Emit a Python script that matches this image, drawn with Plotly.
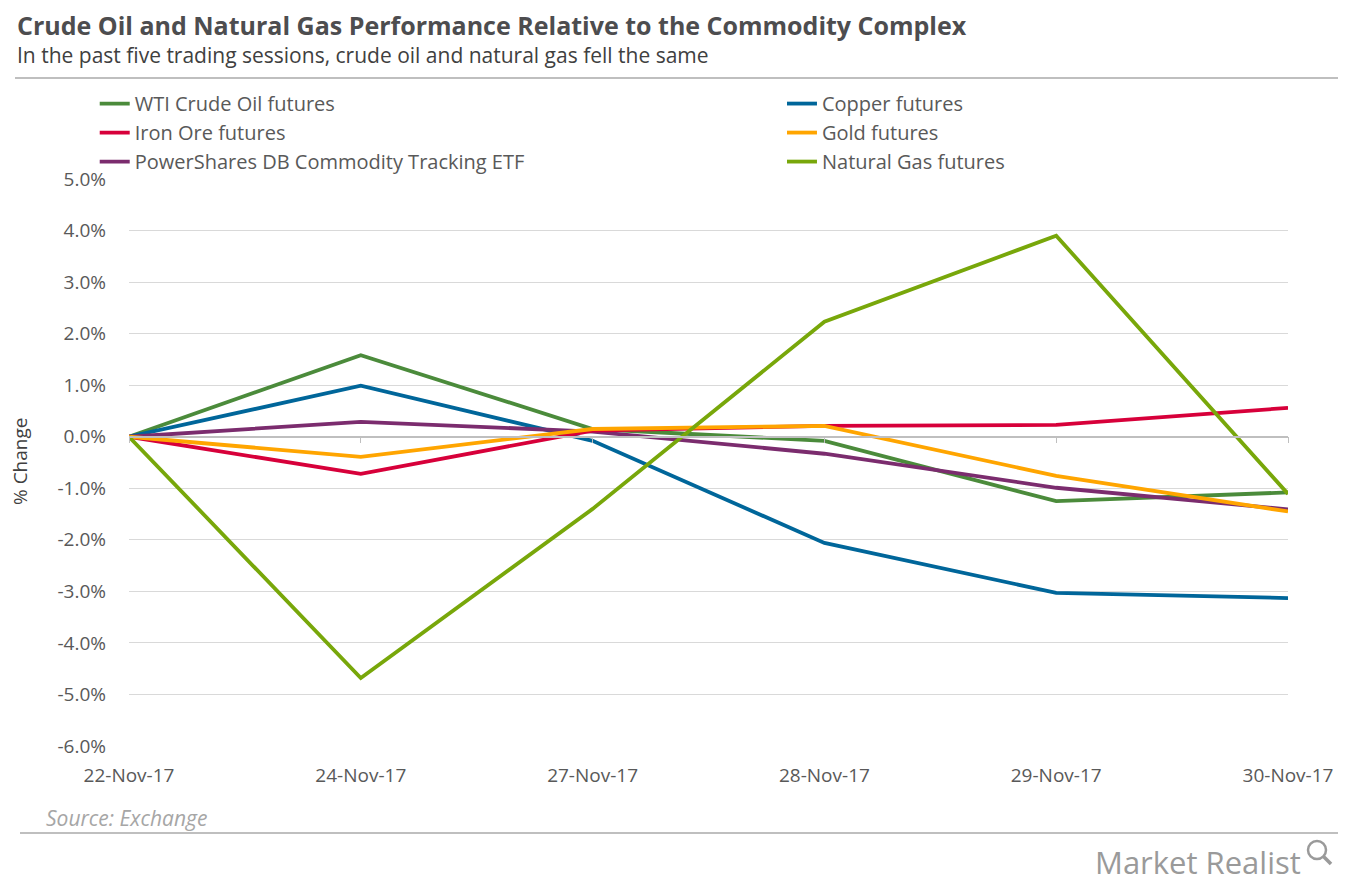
import plotly.graph_objects as go

dates = ["22-Nov-17", "24-Nov-17", "27-Nov-17", "28-Nov-17", "29-Nov-17", "30-Nov-17"]
wti = [0.0, 1.58, 0.15, -0.08, -1.25, -1.08]
copper = [0.0, 0.99, -0.08, -2.06, -3.03, -3.13]
iron_ore = [0.0, -0.72, 0.12, 0.21, 0.23, 0.56]
gold = [0.0, -0.39, 0.15, 0.21, -0.76, -1.45]
dbc = [0.0, 0.29, 0.10, -0.33, -0.99, -1.41]
natgas = [0.0, -4.68, -1.40, 2.23, 3.90, -1.11]

y_ticks = [5, 4, 3, 2, 1, 0, -1, -2, -3, -4, -5, -6]
y_labels = [f"{v:.1f}%" for v in y_ticks]

series = [
    ("WTI Crude Oil futures", wti, "#4B8B3B", "legend"),
    ("Iron Ore futures", iron_ore, "#D7003A", "legend"),
    ("PowerShares DB Commodity Tracking ETF", dbc, "#7B2C6E", "legend"),
    ("Copper futures", copper, "#00669A", "legend2"),
    ("Gold futures", gold, "#FFA500", "legend2"),
    ("Natural Gas futures", natgas, "#78A70A", "legend2"),
]
draw_order = [0, 3, 2, 1, 4, 5]

W, H = 1359, 885
ML, MR, MT, MB = 129, 71, 179, 139
PW, PH = W - ML - MR, H - MT - MB

fig = go.Figure()
x_idx = list(range(len(dates)))
for i in draw_order:
    name, vals, col, lg = series[i]
    fig.add_trace(go.Scatter(
        x=x_idx, y=vals, mode="lines", name=name,
        line=dict(color=col, width=3.8), legend=lg,
        legendrank=i, hovertemplate="%{y:.2f}%<extra>" + name + "</extra>",
    ))

# zero axis line with tick marks (secondary x axis positioned at y=0)
fig.add_trace(go.Scatter(x=x_idx, y=[None]*len(x_idx), xaxis="x2", showlegend=False, hoverinfo="skip"))

font_family = "Open Sans, DejaVu Sans, sans-serif"
legend_font = dict(family=font_family, size=20, color="#595959")

fig.update_layout(
    width=W, height=H,
    paper_bgcolor="white", plot_bgcolor="white",
    margin=dict(l=ML, r=MR, t=MT, b=MB, autoexpand=False),
    showlegend=True,
    legend=dict(xref="container", yref="container", x=0.0697, y=0.905, xanchor="left", yanchor="top",
                font=legend_font, tracegroupgap=0, itemwidth=30, bgcolor="rgba(0,0,0,0)",
                traceorder="normal"),
    legend2=dict(xref="container", yref="container", x=0.5754, y=0.905, xanchor="left", yanchor="top",
                 font=legend_font, tracegroupgap=0, itemwidth=30, bgcolor="rgba(0,0,0,0)",
                 traceorder="normal"),
    xaxis=dict(
        range=[0, 5], tickmode="array", tickvals=x_idx, ticktext=dates,
        showgrid=False, zeroline=False, showline=False, ticks="",
        tickfont=dict(family=font_family, size=19, color="#595959"),
        ticklabelstandoff=16,
    ),
    xaxis2=dict(
        range=[0, 5], overlaying="x", anchor="free", position=6/11,
        tickmode="array", tickvals=x_idx, showticklabels=False,
        ticks="outside", ticklen=6, tickcolor="#BFBFBF", tickwidth=1,
        showline=True, linecolor="#BFBFBF", linewidth=1.5, showgrid=False, zeroline=False,
    ),
    yaxis=dict(
        range=[-6, 5], tickmode="array", tickvals=y_ticks, ticktext=y_labels,
        showgrid=True, gridcolor="#D9D9D9", gridwidth=1, zeroline=False,
        tickfont=dict(family=font_family, size=19, color="#595959"),
        ticks="", ticklabelstandoff=22,
    ),
)

texts = [
    dict(text="<b>Crude Oil and Natural Gas Performance Relative to the Commodity Complex</b>",
         x=15, y=25, size=25, color="#4D4D4F"),
    dict(text="In the past five trading sessions, crude oil and natural gas fell the same",
         x=15, y=55, size=21, color="#404040"),
    dict(text="<i>Source: Exchange</i>", x=44, y=818, size=21, color="#A6A6A6"),
    dict(text="Market Realist", x=1093, y=862, size=31, color="#9A9A9A"),
]
for t in texts:
    fig.add_annotation(
        text=t["text"], xref="paper", yref="paper",
        x=(t["x"] - ML) / PW, y=(H - MB - t["y"]) / PH,
        xanchor="left", yanchor="middle", showarrow=False,
        font=dict(family=font_family, size=t["size"], color=t["color"]),
    )

# y-axis title
fig.add_annotation(
    text="% Change", xref="paper", yref="paper",
    x=(20 - ML) / PW, y=(H - MB - 462) / PH, textangle=-90,
    xanchor="center", yanchor="middle", showarrow=False,
    font=dict(family=font_family, size=19, color="#404040"),
)

def px(xp):
    return (xp - ML) / PW

def py(yp):
    return (H - MB - yp) / PH

def hline(y, x0, x1, color, width):
    fig.add_shape(type="line", xref="paper", yref="paper",
                  x0=px(x0), x1=px(x1), y0=py(y), y1=py(y),
                  line=dict(color=color, width=width))

hline(78, 15, 1338, "#BFBFBF", 2)
hline(833, 20, 1338, "#BFBFBF", 2)

# magnifier icon of the logo
fig.add_shape(type="circle", xref="paper", yref="paper",
              x0=px(1308), x1=px(1326), y0=py(859), y1=py(841),
              line=dict(color="#9A9A9A", width=2.5))
fig.add_shape(type="line", xref="paper", yref="paper",
              x0=px(1323), x1=px(1331), y0=py(856), y1=py(864),
              line=dict(color="#9A9A9A", width=3.5))

fig.write_html("out.html", config={"displayModeBar": False},
               post_script="document.body.style.margin='0';")
